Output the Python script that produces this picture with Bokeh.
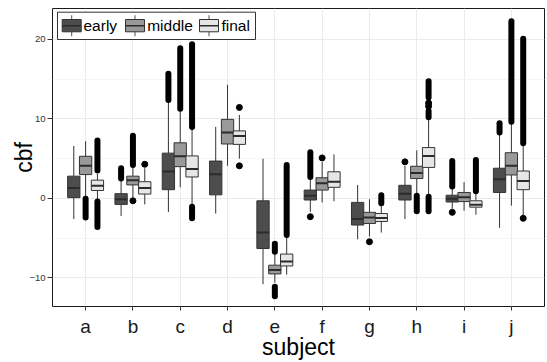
from bokeh.plotting import figure
from bokeh.models import (ColumnDataSource, FactorRange, FixedTicker, BoxAnnotation,
                          Label, Range1d)
from bokeh.transform import dodge
from bokeh.embed import file_html
from bokeh.resources import INLINE

# ---------------- data ----------------
subjects = ["a", "b", "c", "d", "e", "f", "g", "h", "i", "j"]
series = ["early", "middle", "final"]

whisker_low = {
    "early":  [-2.6, -2.2, -1.7, -1.9, -10.8, -1.7, -5.15, -2.6, -1.3, -3.7],
    "middle": [0.2, 0.1, 1.4, 4.1, -10.6, -0.5, -4.8, 0.6, -1.55, -0.9],
    "final":  [-0.2, -0.75, -0.8, 5.0, -9.6, -0.35, -4.3, 0.5, -2.05, -2.1],
}
q1 = {
    "early":  [0.1, -0.75, 1.1, 0.45, -6.3, -0.2, -3.35, -0.2, -0.45, 0.75],
    "middle": [3.0, 1.7, 4.0, 6.85, -9.5, 1.05, -3.15, 2.5, -0.4, 2.95],
    "final":  [1.0, 0.55, 2.7, 6.8, -8.5, 1.4, -2.9, 3.9, -1.1, 1.1],
}
median = {
    "early":  [1.3, -0.1, 3.4, 3.05, -4.3, 0.35, -2.6, 0.6, -0.05, 2.4],
    "middle": [4.1, 2.3, 5.3, 8.3, -9.0, 1.9, -2.4, 3.2, 0.15, 4.1],
    "final":  [1.6, 1.3, 3.7, 7.85, -7.95, 2.1, -2.45, 5.35, -0.8, 2.2],
}
q3 = {
    "early":  [2.8, 0.6, 5.7, 4.7, -0.3, 1.05, -0.5, 1.65, 0.4, 3.8],
    "middle": [5.3, 2.8, 7.0, 9.95, -8.4, 2.6, -1.75, 4.05, 0.75, 5.75],
    "final":  [2.3, 2.1, 5.35, 8.5, -7.0, 3.35, -1.9, 6.4, -0.3, 3.45],
}
whisker_high = {
    "early":  [6.6, 2.2, 12.2, 9.0, 5.0, 2.5, 1.7, 4.1, 1.3, 8.1],
    "middle": [7.2, 4.0, 11.0, 14.3, -7.0, 4.6, -0.1, 6.05, 2.05, 9.4],
    "final":  [3.1, 3.8, 8.8, 10.5, -4.8, 5.55, -0.9, 9.9, 0.6, 6.7],
}

# dense runs of outliers: (subject, series, lowest, highest)
outlier_runs = [
    ("a", "middle", -2.4, -0.05),
    ("a", "final", 3.5, 7.3), ("a", "final", -3.6, -0.4),
    ("b", "early", 2.5, 3.8),
    ("b", "middle", 4.2, 7.9),
    ("c", "early", 12.4, 15.7),
    ("c", "middle", 11.3, 18.9),
    ("c", "final", 9.0, 19.4), ("c", "final", -2.5, -1.05),
    ("e", "middle", -6.7, -5.7), ("e", "middle", -12.3, -11.1),
    ("e", "final", -4.6, 4.2),
    ("f", "early", 2.7, 5.8),
    ("g", "final", -0.6, 0.4),
    ("h", "middle", -1.6, 0.35),
    ("h", "final", 12.7, 14.75), ("h", "final", 10.2, 11.0), ("h", "final", -1.6, 0.2),
    ("i", "early", 1.5, 4.7),
    ("i", "final", 0.9, 4.85),
    ("j", "early", 8.3, 9.45),
    ("j", "middle", 9.65, 22.3),
    ("j", "final", 6.95, 20.1),
]
# isolated outliers: (subject, series, value)
outlier_points = [
    ("b", "middle", -0.3), ("b", "final", 4.3),
    ("d", "final", 11.45), ("d", "final", 4.1),
    ("f", "early", -2.3), ("f", "middle", 5.1),
    ("g", "middle", -5.45),
    ("h", "early", 4.6), ("h", "final", 11.6), ("h", "final", 12.0),
    ("i", "early", -1.75),
    ("j", "final", -2.5),
]

fills = {"early": "#4d4d4d", "middle": "#999999", "final": "#e6e6e6"}
offsets = {"early": -0.25, "middle": 0.0, "final": 0.25}
box_w = 0.26
edge = "#333333"

# ---------------- figure ----------------
p = figure(width=547, height=362,
           x_range=FactorRange(factors=subjects, range_padding=0.2,
                               range_padding_units="absolute"),
           y_range=Range1d(-13.6, 23.9),
           output_backend="svg", toolbar_location=None,
           min_border_left=52, min_border_right=3,
           min_border_top=8, min_border_bottom=55)
p.background_fill_color = "white"
p.border_fill_color = "white"
p.outline_line_color = "#1a1a1a"
p.outline_line_width = 1

p.xgrid.grid_line_color = "#ebebeb"
p.ygrid.grid_line_color = "#ebebeb"
p.ygrid.minor_grid_line_color = "#f5f5f5"
p.yaxis.ticker = FixedTicker(ticks=[-10, 0, 10, 20], minor_ticks=[-15, -5, 5, 15])

for ax in (p.xaxis, p.yaxis):
    ax.axis_line_color = None
    ax.major_tick_line_color = "#333333"
    ax.major_tick_in = 0
    ax.minor_tick_line_color = None
    ax.major_label_text_font = "Liberation Sans"
    ax.axis_label_text_font = "Liberation Sans"
    ax.axis_label_text_font_style = "normal"
    ax.axis_label_text_color = "black"
    ax.axis_label_text_font_size = "23px"

p.xaxis.major_tick_out = 4
p.xaxis.major_label_text_font_size = "19px"
p.xaxis.major_label_text_color = "#1a1a1a"
p.xaxis.major_label_standoff = 5
p.xaxis.axis_label = "subject"
p.xaxis.axis_label_standoff = -6

p.yaxis.major_tick_out = 5
p.yaxis.major_label_text_font_size = "9.5px"
p.yaxis.major_label_text_color = "#333333"
p.yaxis.major_label_standoff = 2
p.yaxis.axis_label = "cbf"
p.yaxis.axis_label_standoff = -11

# ---------------- boxes ----------------
for s in series:
    src = ColumnDataSource(dict(subject=subjects, lo=whisker_low[s], q1=q1[s],
                                med=median[s], q3=q3[s], hi=whisker_high[s]))
    off = offsets[s]
    xc = dodge("subject", off, range=p.x_range)
    p.segment(x0=xc, y0="lo", x1=xc, y1="q1", source=src, line_color=edge, line_width=1)
    p.segment(x0=xc, y0="q3", x1=xc, y1="hi", source=src, line_color=edge, line_width=1)
    p.vbar(x=xc, bottom="q1", top="q3", width=box_w, source=src,
           fill_color=fills[s], line_color=edge, line_width=1)
    p.segment(x0=dodge("subject", off - box_w / 2, range=p.x_range), y0="med",
              x1=dodge("subject", off + box_w / 2, range=p.x_range), y1="med",
              source=src, line_color="#2b2b2b", line_width=2)

# ---------------- outliers ----------------
for s in series:
    rs = ColumnDataSource(dict(
        subject=[r[0] for r in outlier_runs if r[1] == s],
        lo=[r[2] for r in outlier_runs if r[1] == s],
        hi=[r[3] for r in outlier_runs if r[1] == s],
    ))
    xc = dodge("subject", offsets[s], range=p.x_range)
    p.segment(x0=xc, y0="lo", x1=xc, y1="hi", source=rs, line_color="black",
              line_width=6, line_cap="round")
    ps = ColumnDataSource(dict(
        subject=[r[0] for r in outlier_points if r[1] == s],
        val=[r[2] for r in outlier_points if r[1] == s],
    ))
    p.scatter(x=xc, y="val", source=ps, size=6, fill_color="black", line_color="black")

# ---------------- legend (screen units, relative to frame bottom-left) ----------------
p.add_layout(BoxAnnotation(left=5, right=203, bottom=267, top=294.3,
                           left_units="screen", right_units="screen",
                           bottom_units="screen", top_units="screen",
                           fill_color="white", fill_alpha=1,
                           line_color="#333333", line_alpha=1, line_width=1))
key_left = [9.7, 73.0, 147.0]
label_x = [31.0, 94.7, 169.0]
for k, s in enumerate(series):
    l, r = key_left[k], key_left[k] + 19
    cx = (l + r) / 2
    p.add_layout(BoxAnnotation(left=cx - 0.5, right=cx + 0.5, bottom=270.3, top=291.3,
                               left_units="screen", right_units="screen",
                               bottom_units="screen", top_units="screen",
                               fill_color="#555555", fill_alpha=1, line_alpha=0))
    p.add_layout(BoxAnnotation(left=l, right=r, bottom=274.7, top=287,
                               left_units="screen", right_units="screen",
                               bottom_units="screen", top_units="screen",
                               fill_color=fills[s], fill_alpha=1,
                               line_color=edge, line_alpha=1, line_width=1))
    p.add_layout(BoxAnnotation(left=l, right=r, bottom=280.1, top=281.6,
                               left_units="screen", right_units="screen",
                               bottom_units="screen", top_units="screen",
                               fill_color="#2b2b2b", fill_alpha=1, line_alpha=0))
    p.add_layout(Label(x=label_x[k], y=281, x_units="screen", y_units="screen",
                       text=s, text_font="Liberation Sans", text_font_size="15.5px",
                       text_color="black", text_baseline="middle", text_align="left"))

open("out.html", "w").write(file_html(p, INLINE))
